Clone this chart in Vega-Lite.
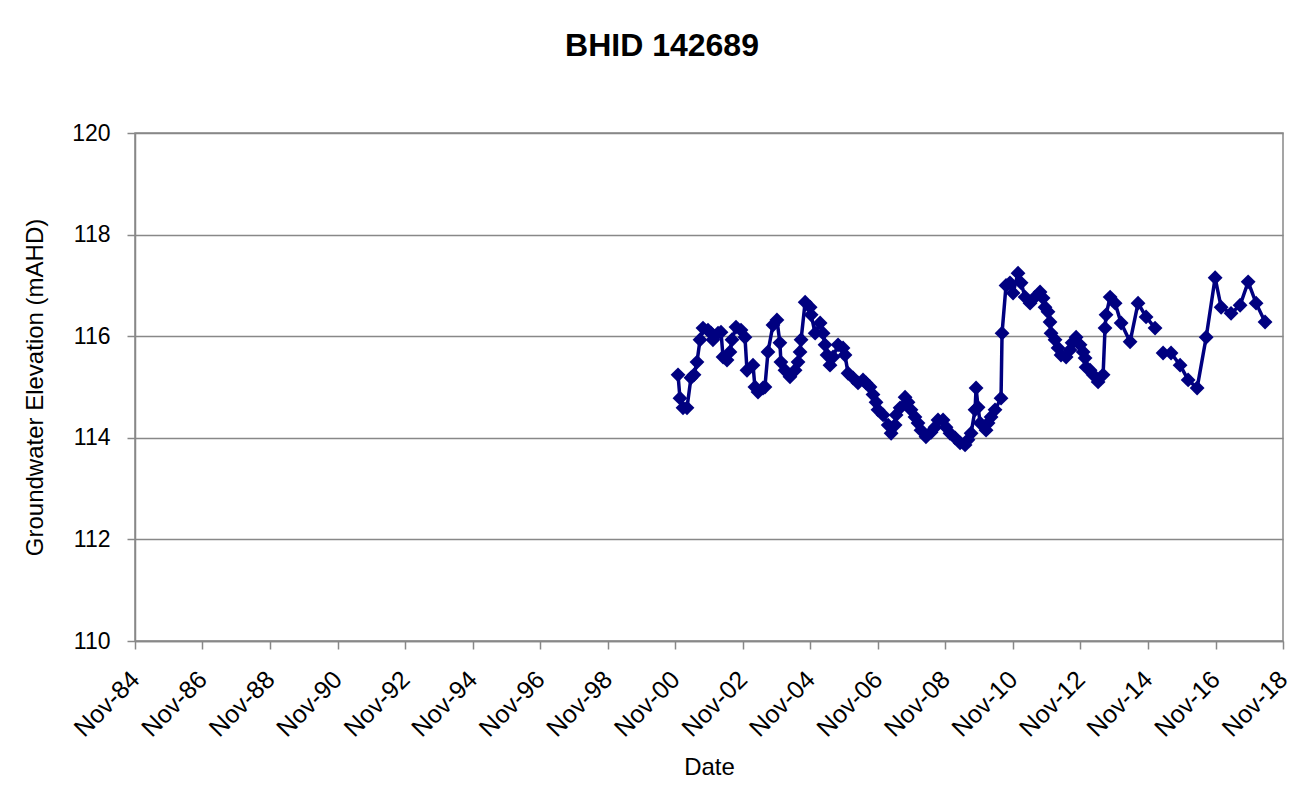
{
  "$schema": "https://vega.github.io/schema/vega-lite/v6.json",
  "width": 1148,
  "height": 508,
  "autosize": {"type": "none"},
  "padding": {"left": 135, "top": 133, "right": 33, "bottom": 163},
  "background": "white",
  "title": {
    "text": "BHID 142689",
    "font": "Liberation Sans",
    "fontSize": 32,
    "fontWeight": "bold",
    "color": "black",
    "anchor": "middle",
    "frame": "group",
    "dx": -47,
    "baseline": "alphabetic",
    "offset": 34
  },
  "config": {
    "view": {"stroke": "#888888", "strokeWidth": 1.5},
    "font": "Liberation Sans"
  },
  "data": {
    "values": [
      {"date": "2000-12-01", "level": 115.24, "seg": 1},
      {"date": "2000-12-22", "level": 114.78, "seg": 1},
      {"date": "2001-01-24", "level": 114.59, "seg": 1},
      {"date": "2001-03-08", "level": 114.59, "seg": 1},
      {"date": "2001-04-20", "level": 115.18, "seg": 1},
      {"date": "2001-05-23", "level": 115.24, "seg": 1},
      {"date": "2001-06-24", "level": 115.49, "seg": 1},
      {"date": "2001-07-27", "level": 115.93, "seg": 1},
      {"date": "2001-08-28", "level": 116.16, "seg": 1},
      {"date": "2001-10-21", "level": 116.12, "seg": 1},
      {"date": "2001-11-23", "level": 116.06, "seg": 1},
      {"date": "2001-12-14", "level": 115.93, "seg": 1},
      {"date": "2002-02-07", "level": 116.06, "seg": 1},
      {"date": "2002-03-11", "level": 116.08, "seg": 1},
      {"date": "2002-04-02", "level": 115.59, "seg": 1},
      {"date": "2002-05-15", "level": 115.53, "seg": 1},
      {"date": "2002-06-16", "level": 115.69, "seg": 1},
      {"date": "2002-07-08", "level": 115.93, "seg": 1},
      {"date": "2002-08-20", "level": 116.18, "seg": 1},
      {"date": "2002-10-13", "level": 116.12, "seg": 1},
      {"date": "2002-11-25", "level": 115.98, "seg": 1},
      {"date": "2002-12-17", "level": 115.33, "seg": 1},
      {"date": "2003-02-20", "level": 115.43, "seg": 1},
      {"date": "2003-03-13", "level": 115.0, "seg": 1},
      {"date": "2003-04-15", "level": 114.9, "seg": 1},
      {"date": "2003-06-08", "level": 114.98, "seg": 1},
      {"date": "2003-06-29", "level": 115.0, "seg": 1},
      {"date": "2003-08-01", "level": 115.69, "seg": 1},
      {"date": "2003-09-24", "level": 116.22, "seg": 1},
      {"date": "2003-11-06", "level": 116.32, "seg": 1},
      {"date": "2003-12-08", "level": 115.87, "seg": 1},
      {"date": "2003-12-19", "level": 115.49, "seg": 1},
      {"date": "2004-02-01", "level": 115.33, "seg": 1},
      {"date": "2004-03-26", "level": 115.2, "seg": 1},
      {"date": "2004-05-20", "level": 115.33, "seg": 1},
      {"date": "2004-06-21", "level": 115.49, "seg": 1},
      {"date": "2004-07-13", "level": 115.69, "seg": 1},
      {"date": "2004-07-24", "level": 115.93, "seg": 1},
      {"date": "2004-09-06", "level": 116.67, "seg": 1},
      {"date": "2004-10-30", "level": 116.57, "seg": 1},
      {"date": "2004-11-10", "level": 116.42, "seg": 1},
      {"date": "2004-12-23", "level": 116.06, "seg": 1},
      {"date": "2005-02-15", "level": 116.26, "seg": 1},
      {"date": "2005-03-19", "level": 116.06, "seg": 1},
      {"date": "2005-04-09", "level": 115.83, "seg": 1},
      {"date": "2005-05-01", "level": 115.63, "seg": 1},
      {"date": "2005-06-02", "level": 115.43, "seg": 1},
      {"date": "2005-07-05", "level": 115.59, "seg": 1},
      {"date": "2005-08-28", "level": 115.83, "seg": 1},
      {"date": "2005-10-21", "level": 115.77, "seg": 1},
      {"date": "2005-11-11", "level": 115.63, "seg": 1},
      {"date": "2005-12-14", "level": 115.27, "seg": 1},
      {"date": "2006-02-06", "level": 115.18, "seg": 1},
      {"date": "2006-04-01", "level": 115.08, "seg": 1},
      {"date": "2006-05-25", "level": 115.14, "seg": 1},
      {"date": "2006-06-26", "level": 115.08, "seg": 1},
      {"date": "2006-08-09", "level": 115.0, "seg": 1},
      {"date": "2006-09-10", "level": 114.85, "seg": 1},
      {"date": "2006-10-13", "level": 114.7, "seg": 1},
      {"date": "2006-11-03", "level": 114.55, "seg": 1},
      {"date": "2006-12-28", "level": 114.45, "seg": 1},
      {"date": "2007-02-21", "level": 114.25, "seg": 1},
      {"date": "2007-03-25", "level": 114.09, "seg": 1},
      {"date": "2007-05-07", "level": 114.25, "seg": 1},
      {"date": "2007-05-18", "level": 114.45, "seg": 1},
      {"date": "2007-06-30", "level": 114.59, "seg": 1},
      {"date": "2007-08-23", "level": 114.8, "seg": 1},
      {"date": "2007-09-24", "level": 114.7, "seg": 1},
      {"date": "2007-10-26", "level": 114.55, "seg": 1},
      {"date": "2007-12-08", "level": 114.41, "seg": 1},
      {"date": "2008-01-10", "level": 114.29, "seg": 1},
      {"date": "2008-02-11", "level": 114.15, "seg": 1},
      {"date": "2008-04-05", "level": 114.02, "seg": 1},
      {"date": "2008-05-30", "level": 114.11, "seg": 1},
      {"date": "2008-07-12", "level": 114.21, "seg": 1},
      {"date": "2008-08-13", "level": 114.35, "seg": 1},
      {"date": "2008-10-07", "level": 114.35, "seg": 1},
      {"date": "2008-11-08", "level": 114.21, "seg": 1},
      {"date": "2008-12-21", "level": 114.09, "seg": 1},
      {"date": "2009-02-14", "level": 114.0, "seg": 1},
      {"date": "2009-04-09", "level": 113.9, "seg": 1},
      {"date": "2009-06-02", "level": 113.86, "seg": 1},
      {"date": "2009-07-04", "level": 113.96, "seg": 1},
      {"date": "2009-08-06", "level": 114.09, "seg": 1},
      {"date": "2009-09-18", "level": 114.55, "seg": 1},
      {"date": "2009-09-29", "level": 114.98, "seg": 1},
      {"date": "2009-10-21", "level": 114.6, "seg": 1},
      {"date": "2009-11-12", "level": 114.29, "seg": 1},
      {"date": "2010-01-15", "level": 114.15, "seg": 1},
      {"date": "2010-02-06", "level": 114.29, "seg": 1},
      {"date": "2010-03-10", "level": 114.41, "seg": 1},
      {"date": "2010-04-22", "level": 114.55, "seg": 1},
      {"date": "2010-06-26", "level": 114.78, "seg": 1},
      {"date": "2010-07-07", "level": 116.06, "seg": 1},
      {"date": "2010-08-19", "level": 117.0, "seg": 1},
      {"date": "2010-10-01", "level": 117.05, "seg": 1},
      {"date": "2010-11-03", "level": 116.85, "seg": 1},
      {"date": "2010-12-27", "level": 117.24, "seg": 1},
      {"date": "2011-01-29", "level": 117.05, "seg": 1},
      {"date": "2011-03-13", "level": 116.77, "seg": 1},
      {"date": "2011-05-06", "level": 116.65, "seg": 1},
      {"date": "2011-06-29", "level": 116.77, "seg": 1},
      {"date": "2011-08-22", "level": 116.87, "seg": 1},
      {"date": "2011-09-24", "level": 116.75, "seg": 1},
      {"date": "2011-10-15", "level": 116.57, "seg": 1},
      {"date": "2011-11-16", "level": 116.48, "seg": 1},
      {"date": "2011-12-08", "level": 116.28, "seg": 1},
      {"date": "2011-12-19", "level": 116.06, "seg": 1},
      {"date": "2012-01-31", "level": 115.93, "seg": 1},
      {"date": "2012-03-04", "level": 115.77, "seg": 1},
      {"date": "2012-04-05", "level": 115.63, "seg": 1},
      {"date": "2012-05-30", "level": 115.59, "seg": 1},
      {"date": "2012-07-12", "level": 115.73, "seg": 1},
      {"date": "2012-08-03", "level": 115.87, "seg": 1},
      {"date": "2012-09-15", "level": 115.98, "seg": 1},
      {"date": "2012-10-28", "level": 115.83, "seg": 1},
      {"date": "2012-11-30", "level": 115.69, "seg": 1},
      {"date": "2012-12-21", "level": 115.57, "seg": 1},
      {"date": "2013-01-01", "level": 115.39, "seg": 1},
      {"date": "2013-02-14", "level": 115.33, "seg": 1},
      {"date": "2013-03-18", "level": 115.24, "seg": 1},
      {"date": "2013-05-11", "level": 115.1, "seg": 1},
      {"date": "2013-07-04", "level": 115.24, "seg": 1},
      {"date": "2013-07-25", "level": 116.16, "seg": 1},
      {"date": "2013-08-05", "level": 116.42, "seg": 1},
      {"date": "2013-09-18", "level": 116.77, "seg": 1},
      {"date": "2013-11-11", "level": 116.65, "seg": 1},
      {"date": "2014-01-15", "level": 116.26, "seg": 1},
      {"date": "2014-04-22", "level": 115.89, "seg": 1},
      {"date": "2014-07-17", "level": 116.65, "seg": 1},
      {"date": "2014-10-12", "level": 116.38, "seg": 1},
      {"date": "2015-01-17", "level": 116.16, "seg": 1},
      {"date": "2015-04-14", "level": 115.67, "seg": 2},
      {"date": "2015-07-09", "level": 115.67, "seg": 2},
      {"date": "2015-10-15", "level": 115.43, "seg": 2},
      {"date": "2016-01-10", "level": 115.14, "seg": 2},
      {"date": "2016-04-16", "level": 114.98, "seg": 2},
      {"date": "2016-07-23", "level": 115.98, "seg": 2},
      {"date": "2016-10-28", "level": 117.15, "seg": 2},
      {"date": "2017-01-01", "level": 116.57, "seg": 2},
      {"date": "2017-04-18", "level": 116.45, "seg": 2},
      {"date": "2017-07-25", "level": 116.61, "seg": 2},
      {"date": "2017-10-20", "level": 117.07, "seg": 2},
      {"date": "2018-01-14", "level": 116.65, "seg": 2},
      {"date": "2018-04-21", "level": 116.28, "seg": 2}
    ]
  },
  "encoding": {
    "x": {
      "field": "date",
      "type": "temporal",
      "scale": {
        "type": "utc",
        "domain": [
          {"year": 1984, "month": 11, "date": 1, "utc": true},
          {"year": 2018, "month": 11, "date": 1, "utc": true}
        ]
      },
      "axis": {
        "title": "Date",
        "values": [
          {"year": 1984, "month": 11, "date": 1, "utc": true},
          {"year": 1986, "month": 11, "date": 1, "utc": true},
          {"year": 1988, "month": 11, "date": 1, "utc": true},
          {"year": 1990, "month": 11, "date": 1, "utc": true},
          {"year": 1992, "month": 11, "date": 1, "utc": true},
          {"year": 1994, "month": 11, "date": 1, "utc": true},
          {"year": 1996, "month": 11, "date": 1, "utc": true},
          {"year": 1998, "month": 11, "date": 1, "utc": true},
          {"year": 2000, "month": 11, "date": 1, "utc": true},
          {"year": 2002, "month": 11, "date": 1, "utc": true},
          {"year": 2004, "month": 11, "date": 1, "utc": true},
          {"year": 2006, "month": 11, "date": 1, "utc": true},
          {"year": 2008, "month": 11, "date": 1, "utc": true},
          {"year": 2010, "month": 11, "date": 1, "utc": true},
          {"year": 2012, "month": 11, "date": 1, "utc": true},
          {"year": 2014, "month": 11, "date": 1, "utc": true},
          {"year": 2016, "month": 11, "date": 1, "utc": true},
          {"year": 2018, "month": 11, "date": 1, "utc": true}
        ],
        "labelExpr": "utcFormat(datum.value, '%b-%y')",
        "labelAngle": -45,
        "labelAlign": "right",
        "labelBaseline": "middle",
        "labelFontSize": 25,
        "labelColor": "black",
        "labelPadding": 26,
        "labelOverlap": false,
        "labelBound": false,
        "labelFlush": false,
        "grid": false,
        "domainColor": "#888888",
        "domainWidth": 1.5,
        "tickColor": "#888888",
        "tickWidth": 1.5,
        "tickSize": 8,
        "titleFontSize": 24,
        "titleFontWeight": "normal",
        "titleColor": "black",
        "titlePadding": 14
      }
    },
    "y": {
      "field": "level",
      "type": "quantitative",
      "scale": {"domain": [110, 120], "nice": false, "zero": false},
      "axis": {
        "title": "Groundwater Elevation (mAHD)",
        "values": [110, 112, 114, 116, 118, 120],
        "labelFontSize": 23,
        "labelColor": "black",
        "labelPadding": 17,
        "grid": true,
        "gridColor": "#888888",
        "gridWidth": 1.5,
        "domainColor": "#888888",
        "domainWidth": 1.5,
        "tickColor": "#888888",
        "tickWidth": 1.5,
        "tickSize": 8,
        "titleFontSize": 24,
        "titleFontWeight": "normal",
        "titleColor": "black",
        "titlePadding": 24
      }
    }
  },
  "layer": [
    {
      "mark": {"type": "line", "color": "#000080", "strokeWidth": 3.5},
      "encoding": {"detail": {"field": "seg", "type": "nominal"}}
    },
    {
      "mark": {"type": "point", "shape": "diamond", "filled": true, "color": "#000080", "size": 220, "opacity": 1}
    }
  ]
}
